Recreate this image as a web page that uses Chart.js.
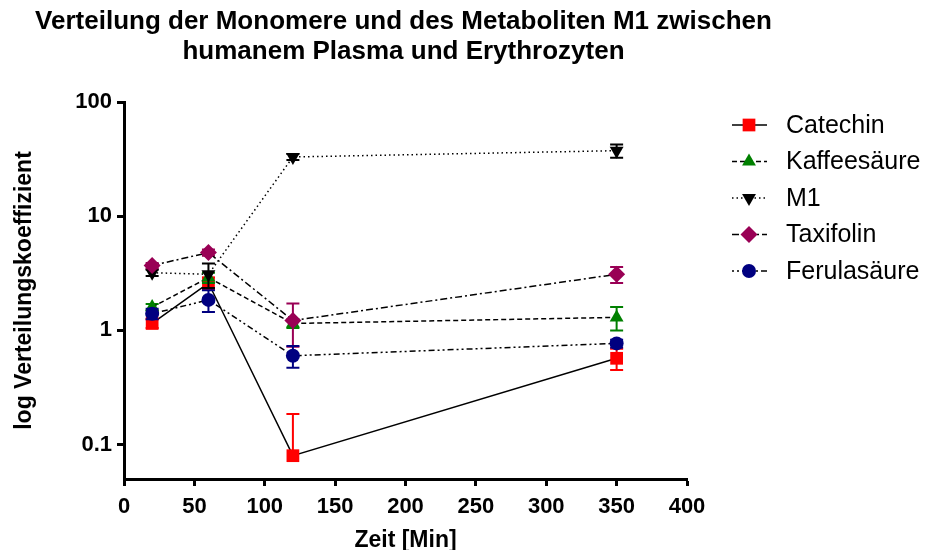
<!DOCTYPE html>
<html>
<head>
<meta charset="utf-8">
<script src="https://cdn.jsdelivr.net/npm/chart.js@4/dist/chart.umd.min.js"></script>
<style>
  html, body { margin: 0; padding: 0; background: #ffffff; }
  canvas { display: block; }
</style>
</head>
<body>
<canvas id="chart" width="928" height="550"></canvas>
<script>
// Sampling times (minutes)
const timesMin = [20, 60, 120, 350];

// Mean distribution coefficients and their errors per compound
const seriesNames = ['Catechin', 'Kaffeesäure', 'M1', 'Taxifolin', 'Ferulasäure'];
const catechin        = [1.15, 2.6, 0.08, 0.57];
const catechinErr     = [0.10, 0.3, 0.105, 0.12];
const kaffeesaeure    = [1.6, 2.9, 1.15, 1.3];
const kaffeesaeureErr = [0.10, 0.3, 0.10, 0.3];
const m1              = [3.2, 3.1, 33, 37.5];
const m1Err           = [0.2, 0.75, 2, 5];
const taxifolin       = [3.7, 4.8, 1.22, 3.1];
const taxifolinErr    = [0.2, 0.3, 0.5, 0.5];
const ferulasaeure    = [1.4, 1.85, 0.6, 0.77];
const ferulasaeureErr = [0.15, 0.4, 0.13, 0.06];

// Axis ticks
const yTickValues = [0.1, 1, 10, 100];
const yTickLabels = ['0.1', '1', '10', '100'];
const xTickValues = [0, 50, 100, 150, 200, 250, 300, 350, 400];

const titleLines = ['Verteilung der Monomere und des Metaboliten M1 zwischen',
                    'humanem Plasma und Erythrozyten'];

const FONT = "'Liberation Sans', Arial, Helvetica, sans-serif";

// Per-series styling
const styles = [
  { color: '#ff0000', pointStyle: 'rect',     radius: 9,   rotation: 0,   dash: [] },
  { color: '#008000', pointStyle: 'triangle', radius: 8,   rotation: 0,   dash: [5, 3] },
  { color: '#000000', pointStyle: 'triangle', radius: 8,   rotation: 180, dash: [1.5, 3] },
  { color: '#990055', pointStyle: 'rectRot',  radius: 8.5, rotation: 0,   dash: [7, 3, 2, 3] },
  { color: '#000080', pointStyle: 'circle',   radius: 7,   rotation: 0,   dash: [2, 3, 2, 3, 6, 3] }
];

const values = [catechin, kaffeesaeure, m1, taxifolin, ferulasaeure];
const errors = [catechinErr, kaffeesaeureErr, m1Err, taxifolinErr, ferulasaeureErr];

const datasets = seriesNames.map((name, i) => ({
  label: name,
  data: timesMin.map((t, j) => ({ x: t, y: values[i][j] })),
  errors: errors[i],
  borderColor: '#000000',
  borderWidth: 1.5,
  borderDash: styles[i].dash,
  backgroundColor: styles[i].color,
  pointBackgroundColor: styles[i].color,
  pointBorderColor: styles[i].color,
  pointBorderWidth: 0,
  pointStyle: styles[i].pointStyle,
  pointRadius: styles[i].radius,
  pointRotation: styles[i].rotation,
  pointHoverRadius: styles[i].radius,
  tension: 0,
  fill: false,
  clip: false,
  order: seriesNames.length - i
}));

// Vertical error bars with caps, drawn under each series' own markers
const errorBars = {
  id: 'errorBars',
  beforeDatasetDraw(chart, args) {
    const ds = chart.data.datasets[args.index];
    const xs = chart.scales.x, ys = chart.scales.y;
    const area = chart.chartArea;
    const ctx = chart.ctx;
    ctx.save();
    ctx.strokeStyle = ds.pointBackgroundColor;
    ctx.lineWidth = 2;
    ctx.setLineDash([]);
    const cap = 6.5;
    ds.data.forEach((p, j) => {
      const e = ds.errors[j];
      const x = xs.getPixelForValue(p.x);
      const yHi = ys.getPixelForValue(p.y + e);
      const lo = p.y - e;
      const yLo = lo > 0 ? Math.min(ys.getPixelForValue(lo), area.bottom) : ys.getPixelForValue(p.y);
      ctx.beginPath();
      ctx.moveTo(x, yHi); ctx.lineTo(x, yLo);
      ctx.moveTo(x - cap, yHi); ctx.lineTo(x + cap, yHi);
      if (lo > 0) { ctx.moveTo(x - cap, yLo); ctx.lineTo(x + cap, yLo); }
      ctx.stroke();
    });
    ctx.restore();
  }
};

// Two-line bold title centred over the plot area
const plotTitle = {
  id: 'plotTitle',
  afterDraw(chart) {
    const ctx = chart.ctx;
    const area = chart.chartArea;
    const cx = (area.left + area.right) / 2 - 2;
    ctx.save();
    ctx.fillStyle = '#000';
    ctx.font = 'bold 26px ' + FONT;
    ctx.textAlign = 'center';
    ctx.textBaseline = 'middle';
    titleLines.forEach((line, k) => ctx.fillText(line, cx, 22 + k * 30));
    ctx.restore();
  }
};

// Legend with line sample, marker and name
const sideLegend = {
  id: 'sideLegend',
  afterDraw(chart) {
    const ctx = chart.ctx;
    const x0 = 732, x1 = 767, xm = 749, xt = 786;
    ctx.save();
    chart.data.datasets.forEach((ds, i) => {
      const y = 125 + i * 36.5;
      ctx.strokeStyle = '#000';
      ctx.lineWidth = 1.5;
      ctx.setLineDash(ds.borderDash);
      ctx.beginPath();
      ctx.moveTo(x0, y); ctx.lineTo(x1, y);
      ctx.stroke();
      ctx.setLineDash([]);
      ctx.fillStyle = ds.pointBackgroundColor;
      ctx.strokeStyle = ds.pointBackgroundColor;
      Chart.helpers.drawPoint(ctx, {
        pointStyle: ds.pointStyle,
        rotation: ds.pointRotation,
        radius: ds.pointRadius,
        borderWidth: 0
      }, xm, y);
      ctx.fillStyle = '#000';
      ctx.font = '25px ' + FONT;
      ctx.textAlign = 'left';
      ctx.textBaseline = 'middle';
      ctx.fillText(ds.label, xt, y + 1);
    });
    ctx.restore();
  }
};

new Chart(document.getElementById('chart'), {
  type: 'line',
  data: { datasets },
  plugins: [errorBars, plotTitle, sideLegend],
  options: {
    responsive: false,
    animation: false,
    devicePixelRatio: 1,
    layout: { padding: { top: 102, right: 241, left: 0, bottom: 0 } },
    plugins: {
      legend: { display: false },
      title: { display: false },
      tooltip: { enabled: false }
    },
    scales: {
      x: {
        type: 'linear',
        min: 0, max: 400,
        afterFit(scale) { scale.height = 71; },
        afterBuildTicks(scale) { scale.ticks = xTickValues.map(v => ({ value: v })); },
        border: { display: true, color: '#000', width: 3 },
        grid: { display: true, drawOnChartArea: false, drawTicks: true, tickLength: 7, tickWidth: 3, tickColor: '#000' },
        ticks: { color: '#000', font: { family: FONT, size: 22, weight: 'bold' }, padding: 8, maxRotation: 0 },
        title: { display: true, text: 'Zeit [Min]', color: '#000', font: { family: FONT, size: 23, weight: 'bold' }, padding: { top: 0, bottom: -4 } }
      },
      y: {
        type: 'logarithmic',
        min: 0.05, max: 100,
        afterFit(scale) { scale.width = 124; },
        afterBuildTicks(scale) { scale.ticks = yTickValues.map(v => ({ value: v })); },
        border: { display: true, color: '#000', width: 3 },
        grid: { display: true, drawOnChartArea: false, drawTicks: true, tickLength: 7, tickWidth: 3, tickColor: '#000' },
        ticks: {
          color: '#000', font: { family: FONT, size: 22, weight: 'bold' }, padding: 5,
          callback(value) { const k = yTickValues.indexOf(value); return k >= 0 ? yTickLabels[k] : ''; }
        },
        title: { display: true, text: 'log Verteilungskoeffizient', color: '#000', font: { family: FONT, size: 23, weight: 'bold' }, padding: { top: 11, bottom: 0 } }
      }
    }
  }
});
</script>
</body>
</html>
